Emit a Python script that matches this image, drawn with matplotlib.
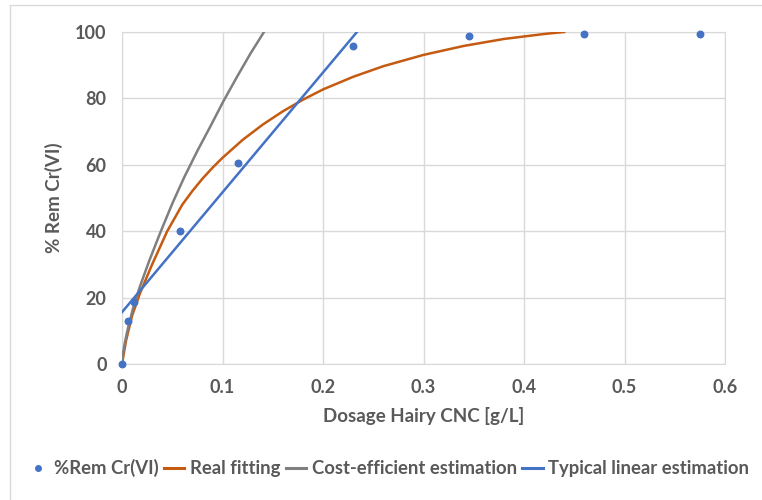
import matplotlib.pyplot as plt
from matplotlib.lines import Line2D
from matplotlib.patches import Rectangle

plt.rcParams['font.family'] = ['Lato', 'DejaVu Sans']
TXT = '#595959'

# measured data
dose = [0.0, 0.0058, 0.0115, 0.0575, 0.115, 0.23, 0.345, 0.46, 0.575]
rem = [0.0, 13.0, 18.8, 40.0, 60.5, 95.8, 98.8, 99.4, 99.4]

# real fitting curve
fit_x = [0.0, 0.004, 0.01, 0.018, 0.03, 0.045, 0.06, 0.07, 0.08, 0.09, 0.1,
         0.12, 0.14, 0.16, 0.18, 0.2, 0.23, 0.26, 0.3, 0.34, 0.38, 0.42, 0.44]
fit_y = [0.0, 7.0, 14.5, 21.4, 30.0, 40.0, 48.0, 52.1, 55.8, 59.1, 62.1,
         67.5, 72.1, 76.1, 79.6, 82.7, 86.5, 89.7, 93.1, 95.8, 97.9, 99.4, 100.0]

# cost-efficient estimation curve
cost_x = [0.0, 0.001, 0.003, 0.006, 0.011, 0.018, 0.027, 0.038, 0.05, 0.062,
          0.075, 0.088, 0.101, 0.115, 0.128, 0.14, 0.146]
cost_y = [0.0, 3.2, 6.7, 10.9, 16.8, 23.5, 31.0, 39.5, 48.3, 56.3,
          64.2, 71.6, 79.2, 86.8, 93.6, 99.4, 102.3]

# typical linear estimation
lin_x = [0.0, 0.236]
lin_y = [15.6, 100.8]

fig = plt.figure(figsize=(7.62, 5.0), dpi=100)
fig.patches.append(Rectangle((10 / 762, -0.1), 1.2, 1.1 - 5 / 500, transform=fig.transFigure,
                             fill=False, edgecolor='#D9D9D9', lw=1.0))
ax = fig.add_axes([122 / 762, 1 - 364 / 500, 603 / 762, 332 / 500])

ax.plot(fit_x, fit_y, color='#C55A11', lw=1.8, label='Real fitting', zorder=3)
ax.plot(cost_x, cost_y, color='#7F7F7F', lw=1.8, label='Cost-efficient estimation', zorder=3)
ax.plot(lin_x, lin_y, color='#4472C4', lw=1.8, label='Typical linear estimation', zorder=3)
ax.scatter(dose, rem, s=22, color='#4472C4', zorder=4, label='%Rem Cr(VI)', clip_on=False)

ax.set_xlim(0, 0.6)
ax.set_ylim(0, 100)
ax.set_xticks([0, 0.1, 0.2, 0.3, 0.4, 0.5, 0.6])
ax.set_xticklabels(['0', '0.1', '0.2', '0.3', '0.4', '0.5', '0.6'])
ax.set_yticks([0, 20, 40, 60, 80, 100])
ax.grid(True, color='#D9D9D9', lw=1)
ax.set_axisbelow(True)
for s in ax.spines.values():
    s.set_color('#D9D9D9')
ax.tick_params(length=0, labelsize=13, labelcolor=TXT, pad=11)
for lab in ax.get_xticklabels() + ax.get_yticklabels():
    lab.set_fontweight('bold')

ax.set_xlabel('Dosage Hairy CNC [g/L]', fontsize=13.5, color=TXT, fontweight='bold', labelpad=8)
ax.set_ylabel('% Rem Cr(VI)', fontsize=13.5, color=TXT, fontweight='bold', labelpad=9)

handles = [
    Line2D([], [], ls='none', marker='o', ms=4, color='#4472C4'),
    Line2D([], [], color='#C55A11', lw=2.2),
    Line2D([], [], color='#7F7F7F', lw=2.2),
    Line2D([], [], color='#4472C4', lw=2.2),
]
labels = ['%Rem Cr(VI)', 'Real fitting', 'Cost-efficient estimation', 'Typical linear estimation']
leg = fig.legend(handles, labels, loc='center', bbox_to_anchor=(0.51, 1 - 468 / 500), ncol=4,
                 frameon=False, handlelength=1.1, handletextpad=0.3, columnspacing=0.3,
                 prop={'size': 13.3, 'weight': 'bold'})
for t in leg.get_texts():
    t.set_color(TXT)

fig.savefig('out.png', dpi=100)
